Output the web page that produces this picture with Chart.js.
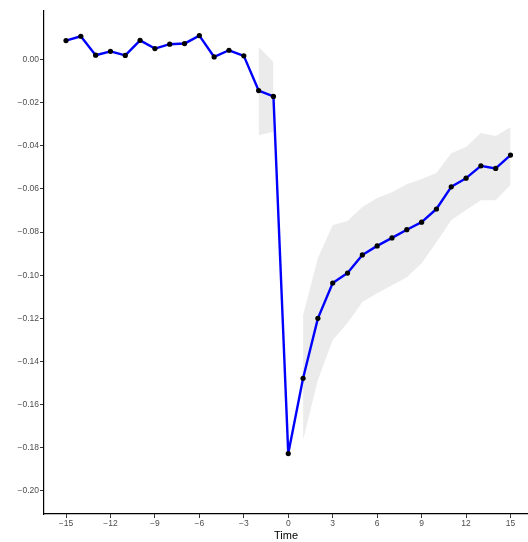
<!DOCTYPE html>
<html>
<head>
<meta charset="utf-8">
<script src="https://cdn.jsdelivr.net/npm/chart.js@4/dist/chart.umd.min.js"></script>
<style>
html,body{margin:0;padding:0;background:#fff;overflow:hidden;}
#c{display:block;}
</style>
</head>
<body>
<canvas id="c" width="528" height="542"></canvas>
<script>
// Event time
const time = [-15,-14,-13,-12,-11,-10,-9,-8,-7,-6,-5,-4,-3,-2,-1,0,1,2,3,4,5,6,7,8,9,10,11,12,13,14,15];
// Point estimates
const estimate = [0.0088,0.0108,0.0020,0.0038,0.0019,0.0089,0.0051,0.0071,0.0074,0.0111,0.0012,0.0043,0.0017,-0.0144,-0.0171,
  -0.1827,-0.1478,-0.1200,-0.1036,-0.0990,-0.0906,-0.0864,-0.0827,-0.0789,-0.0754,-0.0693,-0.0590,-0.0550,-0.0493,-0.0505,-0.0443];
// Confidence band (upper / lower), missing where no band is drawn
const upper = [null,null,null,null,null,null,null,null,null,null,null,null,null,0.0058,-0.0011,
  null,-0.1185,-0.0920,-0.0767,-0.0749,-0.0684,-0.0642,-0.0615,-0.0578,-0.0554,-0.0526,-0.0434,-0.0406,-0.0341,-0.0355,-0.0314];
const lower = [null,null,null,null,null,null,null,null,null,null,null,null,null,-0.0351,-0.0335,
  null,-0.1764,-0.1486,-0.1300,-0.1221,-0.1124,-0.1083,-0.1046,-0.1009,-0.0944,-0.0847,-0.0745,-0.0698,-0.0652,-0.0652,-0.0582];
// Tick labels
const xTicks = [-15,-12,-9,-6,-3,0,3,6,9,12,15];
const yTicks = [-0.20,-0.18,-0.16,-0.14,-0.12,-0.10,-0.08,-0.06,-0.04,-0.02,0.00];
const xTitle = "Time";

const pts = arr => time.map((t,i) => ({x:t, y:arr[i]}));
const fmtMinus = s => s.replace('-', '\u2212');
const tickFont = {family:"'Liberation Sans', Arial, sans-serif", size:8.5};

new Chart(document.getElementById('c'), {
  type:'line',
  data:{
    datasets:[
      {data:pts(estimate), borderColor:'#0000ff', borderWidth:2.4, borderJoinStyle:'round', borderCapStyle:'round',
        pointRadius:2.6, pointBackgroundColor:'#000', pointBorderColor:'#000', pointBorderWidth:0, fill:false, tension:0, order:0},
      {data:pts(upper), borderWidth:0, borderColor:'rgba(0,0,0,0)', pointRadius:0, backgroundColor:'#ebebeb', fill:'+1', spanGaps:false, tension:0, order:1},
      {data:pts(lower), borderWidth:0, borderColor:'rgba(0,0,0,0)', pointRadius:0, backgroundColor:'#ebebeb', fill:false, spanGaps:false, tension:0, order:2}
    ]
  },
  options:{
    responsive:false, devicePixelRatio:1, animation:false,
    layout:{autoPadding:false, padding:{top:11,right:0,bottom:0,left:0}},
    plugins:{legend:{display:false}, tooltip:{enabled:false}},
    scales:{
      x:{type:'linear', min:-16.485, max:16.18,
        afterBuildTicks: s => { s.ticks = xTicks.map(v=>({value:v})); },
        afterFit: s => { s.height = 28; s.paddingLeft = 0; s.paddingRight = 0; },
        grid:{drawOnChartArea:false, drawTicks:true, tickLength:4, color:'#333333'},
        border:{display:true, color:'#000', width:1.2},
        ticks:{color:'#4d4d4d', font:tickFont, padding:1, maxRotation:0, autoSkip:false,
          callback: v => fmtMinus(String(v))},
        title:{display:true, text:xTitle, color:'#000', padding:{top:0,bottom:-1}, font:{family:"'Liberation Sans', Arial, sans-serif", size:11}}
      },
      y:{type:'linear', min:-0.2107, max:0.0225,
        afterBuildTicks: s => { s.ticks = yTicks.map(v=>({value:v})); },
        afterFit: s => { s.width = 44; s.paddingTop = 0; s.paddingBottom = 0; },
        grid:{drawOnChartArea:false, drawTicks:true, tickLength:4, color:'#333333'},
        border:{display:true, color:'#000', width:1.2},
        ticks:{color:'#4d4d4d', font:tickFont, padding:1, autoSkip:false,
          callback: v => fmtMinus(Number(v).toFixed(2))}
      }
    }
  }
});
</script>
</body>
</html>
